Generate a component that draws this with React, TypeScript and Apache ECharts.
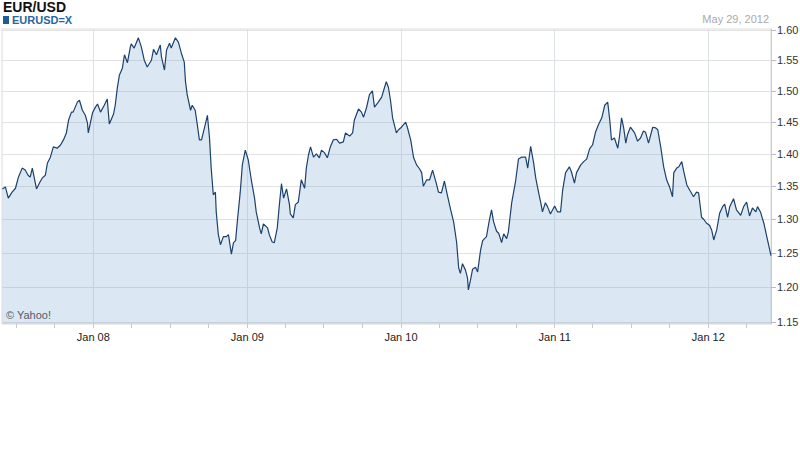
import React, { useEffect, useRef } from "react";
import * as echarts from "echarts";

const title = "EUR/USD";
const symbol = "EURUSD=X";
const asOf = "May 29, 2012";
const credit = "© Yahoo!";

const dates = [
  "2007-05-30","2007-06-06","2007-06-13","2007-06-22","2007-06-30","2007-07-07","2007-07-16","2007-07-23","2007-07-30","2007-08-04","2007-08-09","2007-08-19","2007-08-26","2007-09-02","2007-09-09","2007-09-14","2007-09-21","2007-09-28","2007-10-07","2007-10-15","2007-10-22","2007-10-29","2007-11-03","2007-11-10","2007-11-14","2007-11-24","2007-11-29","2007-12-06","2007-12-13","2007-12-18","2007-12-20","2007-12-30",
  "2008-01-06","2008-01-11","2008-01-18","2008-01-27","2008-02-03","2008-02-08","2008-02-18","2008-02-22","2008-02-27","2008-03-03","2008-03-10","2008-03-15","2008-03-22","2008-03-29","2008-03-31","2008-04-07","2008-04-17","2008-04-24","2008-05-01","2008-05-08","2008-05-18","2008-05-23","2008-05-30","2008-06-08","2008-06-11","2008-06-18","2008-06-23","2008-06-30","2008-07-04","2008-07-14","2008-07-21","2008-07-28","2008-08-04","2008-08-07","2008-08-11","2008-08-19","2008-08-23","2008-08-30","2008-09-04","2008-09-09","2008-09-14","2008-09-21","2008-09-28","2008-10-03","2008-10-07","2008-10-12","2008-10-17","2008-10-19","2008-10-24","2008-10-29","2008-11-05","2008-11-12","2008-11-17","2008-11-24","2008-11-29","2008-12-04","2008-12-08","2008-12-15","2008-12-20","2008-12-27",
  "2009-01-03","2009-01-11","2009-01-18","2009-01-22","2009-01-30","2009-02-03","2009-02-08","2009-02-18","2009-02-22","2009-03-01","2009-03-06","2009-03-13","2009-03-18","2009-03-23","2009-03-28","2009-04-04","2009-04-11","2009-04-13","2009-04-20","2009-04-25","2009-05-02","2009-05-09","2009-05-17","2009-05-21","2009-05-26","2009-05-31","2009-06-07","2009-06-14","2009-06-21","2009-06-26","2009-07-03","2009-07-10","2009-07-17","2009-07-24","2009-08-01","2009-08-08","2009-08-17","2009-08-22","2009-09-01","2009-09-08","2009-09-12","2009-09-22","2009-09-29","2009-10-04","2009-10-11","2009-10-18","2009-10-25","2009-10-30","2009-11-08","2009-11-16","2009-11-23","2009-11-27","2009-12-02","2009-12-07","2009-12-12","2009-12-21","2009-12-26",
  "2010-01-02","2010-01-12","2010-01-16","2010-01-24","2010-01-31","2010-02-07","2010-02-14","2010-02-19","2010-02-23","2010-03-03","2010-03-10","2010-03-17","2010-03-26","2010-03-31","2010-04-07","2010-04-14","2010-04-21","2010-04-29","2010-05-06","2010-05-13","2010-05-18","2010-05-22","2010-05-27","2010-06-03","2010-06-08","2010-06-10","2010-06-15","2010-06-20","2010-06-27","2010-07-02","2010-07-09","2010-07-14","2010-07-23","2010-07-30","2010-08-04","2010-08-09","2010-08-16","2010-08-21","2010-08-28","2010-09-02","2010-09-09","2010-09-13","2010-09-21","2010-09-30","2010-10-07","2010-10-14","2010-10-24","2010-10-29","2010-11-05","2010-11-12","2010-11-17","2010-11-24","2010-11-29","2010-12-03","2010-12-10","2010-12-15","2010-12-22",
  "2011-01-01","2011-01-08","2011-01-15","2011-01-20","2011-01-27","2011-02-05","2011-02-10","2011-02-17","2011-02-22","2011-03-04","2011-03-11","2011-03-18","2011-03-25","2011-04-01","2011-04-08","2011-04-15","2011-04-23","2011-04-30","2011-05-07","2011-05-12","2011-05-16","2011-05-23","2011-05-31","2011-06-04","2011-06-09","2011-06-14","2011-06-19","2011-06-23","2011-06-30","2011-07-10","2011-07-17","2011-07-24","2011-07-31","2011-08-05","2011-08-12","2011-08-22","2011-08-29","2011-09-03","2011-09-10","2011-09-17","2011-09-24","2011-10-01","2011-10-08","2011-10-11","2011-10-18","2011-10-23","2011-10-30","2011-11-03","2011-11-11","2011-11-18","2011-11-27","2011-12-04","2011-12-09","2011-12-16","2011-12-21","2011-12-28",
  "2012-01-04","2012-01-09","2012-01-14","2012-01-21","2012-01-28","2012-02-04","2012-02-09","2012-02-16","2012-02-21","2012-03-01","2012-03-08","2012-03-18","2012-03-25","2012-04-01","2012-04-08","2012-04-15","2012-04-23","2012-04-27","2012-05-04","2012-05-12","2012-05-19","2012-05-29",
];

const rates = [
  1.346,1.349,1.332,1.341,1.347,1.364,1.378,1.375,1.367,1.364,1.378,1.346,1.355,1.363,1.367,1.386,1.395,1.411,1.409,1.414,1.422,1.433,1.453,1.466,1.466,1.482,1.485,1.469,1.461,1.449,1.433,1.465,
  1.474,1.479,1.466,1.477,1.487,1.447,1.463,1.477,1.505,1.526,1.537,1.559,1.546,1.572,1.577,1.570,1.587,1.572,1.550,1.539,1.550,1.568,1.559,1.575,1.555,1.534,1.567,1.578,1.570,1.587,1.580,1.562,1.547,1.515,1.494,1.469,1.477,1.469,1.446,1.422,1.422,1.441,1.461,1.425,1.378,1.337,1.341,1.311,1.277,1.262,1.274,1.274,1.277,1.248,1.265,1.268,1.296,1.341,1.383,1.406,
  1.391,1.357,1.332,1.311,1.287,1.278,1.293,1.287,1.277,1.266,1.265,1.287,1.322,1.354,1.332,1.346,1.322,1.308,1.302,1.322,1.326,1.360,1.347,1.378,1.398,1.411,1.395,1.400,1.394,1.406,1.402,1.394,1.411,1.422,1.423,1.417,1.419,1.433,1.428,1.433,1.453,1.471,1.466,1.458,1.473,1.494,1.500,1.474,1.482,1.490,1.506,1.515,1.506,1.485,1.457,1.433,1.438,
  1.442,1.450,1.442,1.422,1.394,1.383,1.377,1.371,1.350,1.360,1.360,1.375,1.354,1.341,1.340,1.358,1.337,1.314,1.296,1.266,1.228,1.220,1.234,1.225,1.213,1.196,1.210,1.226,1.229,1.222,1.254,1.268,1.274,1.299,1.314,1.296,1.282,1.279,1.265,1.278,1.271,1.281,1.325,1.357,1.392,1.395,1.395,1.378,1.412,1.386,1.363,1.340,1.325,1.311,1.325,1.319,1.308,
  1.320,1.311,1.311,1.344,1.371,1.380,1.372,1.355,1.371,1.383,1.388,1.392,1.408,1.414,1.434,1.446,1.457,1.477,1.482,1.453,1.422,1.425,1.409,1.427,1.457,1.441,1.417,1.430,1.442,1.433,1.420,1.425,1.436,1.434,1.417,1.442,1.441,1.438,1.411,1.380,1.360,1.349,1.334,1.371,1.378,1.380,1.388,1.375,1.352,1.344,1.334,1.341,1.340,1.303,1.300,1.294,
  1.291,1.284,1.269,1.284,1.309,1.319,1.323,1.303,1.319,1.331,1.314,1.306,1.319,1.326,1.305,1.317,1.311,1.319,1.311,1.294,1.274,1.246,
];

const yTickValues = [1.15, 1.2, 1.25, 1.3, 1.35, 1.4, 1.45, 1.5, 1.55, 1.6];
const yMin = 1.1473;
const yMax = 1.6017;
const xMin = "2007-05-29";
const xMax = "2012-05-29";
const yearTicks = ["2008-01-01", "2009-01-01", "2010-01-01", "2011-01-01", "2012-01-01"];
const yearLabels = ["Jan 08", "Jan 09", "Jan 10", "Jan 11", "Jan 12"];
const quarterTicks = [
  "2007-07-01","2007-10-01","2008-01-01","2008-04-01","2008-07-01","2008-10-01",
  "2009-01-01","2009-04-01","2009-07-01","2009-10-01","2010-01-01","2010-04-01",
  "2010-07-01","2010-10-01","2011-01-01","2011-04-01","2011-07-01","2011-10-01",
  "2012-01-01","2012-04-01",
];

const FONT = "'Liberation Sans', Arial, Helvetica, sans-serif";

// The reference price axis is compressed like a square-root scale.
const toAxis = (v: number) => Math.sqrt(v);
const fromAxis = (s: number) => s * s;
const DAY = 86400000;
const parseDay = (d: string) => {
  const [y, m, dd] = d.split("-").map(Number);
  return Date.UTC(y, m - 1, dd);
};

export default function App() {
  const ref = useRef<HTMLDivElement>(null);

  useEffect(() => {
    if (!ref.current) return;
    const chart = echarts.init(ref.current, null, { renderer: "svg" });
    const yearTs = yearTicks.map(parseDay);
    const quarterTs = quarterTicks.map(parseDay);
    const yCustom = yTickValues.map(toAxis);

    chart.setOption({
      animation: false,
      backgroundColor: "#ffffff",
      textStyle: { fontFamily: FONT },
      grid: {
        left: 2,
        right: 29,
        top: 29,
        bottom: 151,
        show: true,
        borderColor: "#dcdcdc",
        borderWidth: 1,
        containLabel: false,
        outerBoundsMode: "none",
      },
      xAxis: [
        {
          type: "value",
          min: parseDay(xMin),
          max: parseDay(xMax),
          axisLine: { show: false },
          axisTick: { show: true, customValues: yearTs, length: 4, lineStyle: { color: "#c8c8c8" } },
          axisLabel: {
            customValues: yearTs,
            color: "#222",
            fontSize: 11,
            fontFamily: FONT,
            margin: 7,
            formatter: (val: number) => {
              const i = yearTs.findIndex((t) => Math.abs(t - val) < 3 * DAY);
              return i >= 0 ? yearLabels[i] : "";
            },
          },
          splitLine: { show: true, lineStyle: { color: "#dde2e8", width: 1 } },
        },
        {
          type: "value",
          min: parseDay(xMin),
          max: parseDay(xMax),
          position: "bottom",
          axisLine: { show: false },
          axisTick: { show: true, customValues: quarterTs, length: 4, lineStyle: { color: "#c8c8c8" } },
          axisLabel: { show: false },
          splitLine: { show: false },
        },
      ],
      yAxis: {
        type: "value",
        position: "right",
        min: toAxis(yMin),
        max: toAxis(yMax),
        axisLine: { show: true, lineStyle: { color: "#cccccc" } },
        axisTick: { show: true, customValues: yCustom, length: 5, lineStyle: { color: "#bbbbbb" } },
        axisLabel: {
          customValues: yCustom,
          color: "#333",
          fontSize: 11,
          fontFamily: FONT,
          margin: 6,
          formatter: (val: number) => fromAxis(val).toFixed(2),
        },
        splitLine: { show: true, lineStyle: { color: "#e2e2e2", width: 1 } },
      },
      series: [
        {
          type: "line",
          xAxisIndex: 0,
          data: dates.map((d, i) => [parseDay(d), toAxis(rates[i])]),
          showSymbol: false,
          symbol: "none",
          lineStyle: { color: "#1c416b", width: 1.2 },
          areaStyle: { color: "rgba(110,165,208,0.36)", origin: "start" },
          silent: true,
        },
      ],
      graphic: [
        {
          type: "text",
          left: 3,
          top: 0,
          style: { text: title, fill: "#111", font: `bold 14px ${FONT}` },
        },
        {
          type: "rect",
          left: 3,
          top: 16,
          shape: { width: 6, height: 8 },
          style: { fill: "#1f5c99" },
        },
        {
          type: "text",
          left: 12,
          top: 14,
          style: { text: symbol, fill: "#2a64a0", font: `bold 11px ${FONT}` },
        },
        {
          type: "text",
          right: 31,
          top: 13,
          style: { text: asOf, fill: "#aaaaaa", font: `11px ${FONT}` },
        },
        {
          type: "text",
          left: 6,
          top: 309,
          style: { text: credit, fill: "#444", font: `11px ${FONT}` },
        },
      ],
    });

    return () => chart.dispose();
  }, []);

  return (
    <div
      ref={ref}
      style={{ position: "absolute", left: 0, top: 0, width: 800, height: 475 }}
    />
  );
}
